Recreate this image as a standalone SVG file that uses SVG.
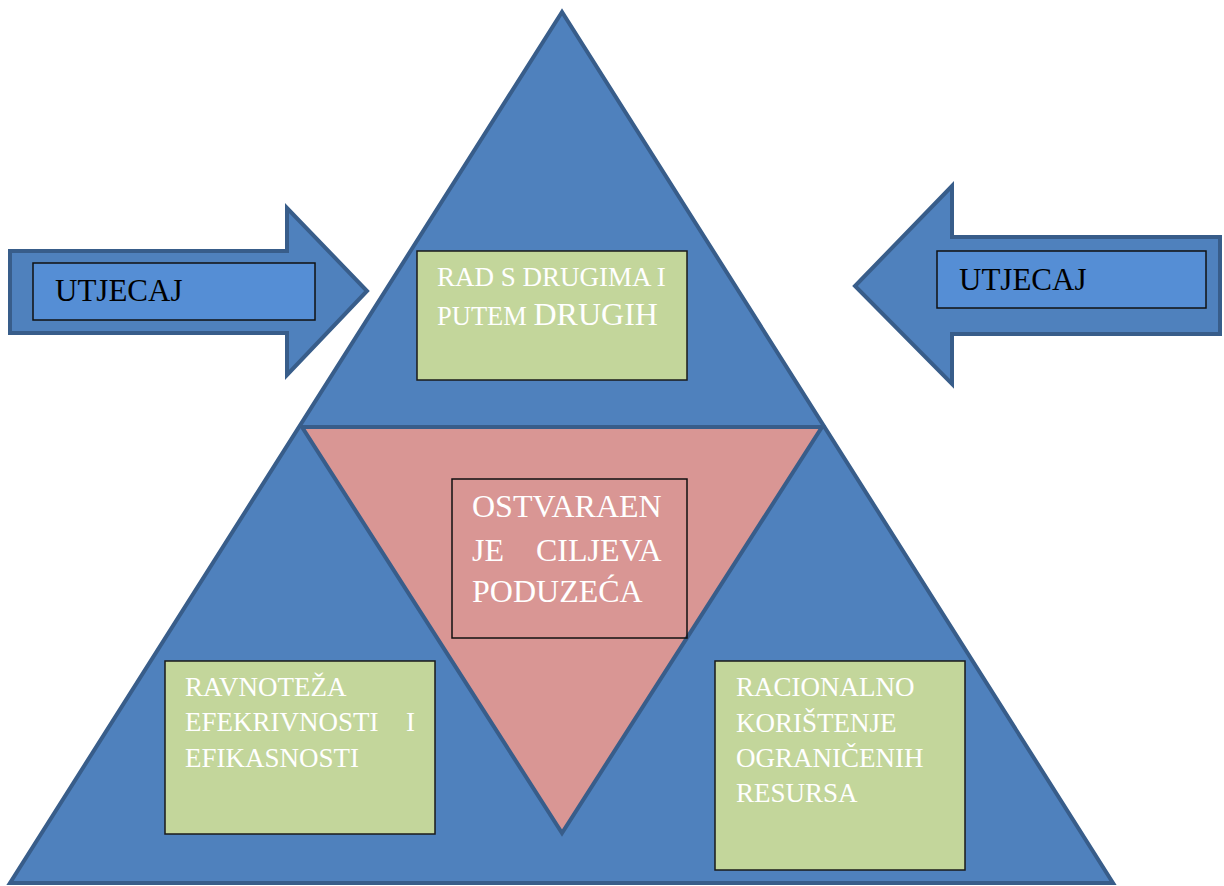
<svg xmlns="http://www.w3.org/2000/svg" width="1224" height="886" viewBox="0 0 1224 886">
<style>
.blue{fill:#4f81bd;stroke:#385d8a;stroke-width:4;stroke-linejoin:miter}
.red{fill:#d99694;stroke:#385d8a;stroke-width:4;stroke-linejoin:miter}
.green{fill:#c3d69b;stroke:#1a1a1a;stroke-width:1.5}
.tbox{fill:#558ed5;stroke:#111;stroke-width:1.5}
.cbox{fill:none;stroke:#111;stroke-width:1.5}
.w{font-family:"Liberation Serif","Times New Roman",serif;fill:#ffffff}
.k{font-family:"Liberation Serif","Times New Roman",serif;fill:#000000}
</style>
<rect width="1224" height="886" fill="#ffffff"/>
<g id="pyramid">
<polygon class="blue" points="562,12 10,883 1113,883"/>
<polygon class="red" points="302,427 822,427 562,833"/>
</g>
<g id="arrow-left">
<polygon class="blue" points="10,251 287,251 287,208 367,291 287,375 287,333 10,333"/>
<rect class="tbox" x="33" y="263" width="282" height="57"/>
<text class="k" x="55" y="301" font-size="31">UTJECAJ</text>
</g>
<g id="arrow-right">
<polygon class="blue" points="1220,237 952,237 952,186 855,286 952,384 952,334 1220,334"/>
<rect class="tbox" x="937" y="251" width="269" height="57"/>
<text class="k" x="959" y="290" font-size="31">UTJECAJ</text>
</g>
<g id="node-top">
<rect class="green" x="417" y="251" width="270" height="129"/>
<text class="w" x="437" y="286" font-size="27">RAD S DRUGIMA I</text>
<text class="w" x="437" y="325" font-size="26.5">PUTEM <tspan font-size="32">DRUGIH</tspan></text>
</g>
<g id="node-center">
<rect class="cbox" x="452" y="479" width="235" height="159"/>
<text class="w" x="472" y="517" font-size="32">OSTVARAEN</text>
<text class="w" y="561" font-size="32"><tspan x="472">JE</tspan><tspan x="536">CILJEVA</tspan></text>
<text class="w" x="472" y="602" font-size="32">PODUZEĆA</text>
</g>
<g id="node-left">
<rect class="green" x="165" y="661" width="270" height="173"/>
<text class="w" x="185" y="696" font-size="27">RAVNOTEŽA</text>
<text class="w" y="731" font-size="27"><tspan x="185">EFEKRIVNOSTI</tspan><tspan x="406">I</tspan></text>
<text class="w" x="185" y="767" font-size="27">EFIKASNOSTI</text>
</g>
<g id="node-right">
<rect class="green" x="715" y="661" width="250" height="209"/>
<text class="w" x="736" y="696" font-size="27">RACIONALNO</text>
<text class="w" x="736" y="732" font-size="27">KORIŠTENJE</text>
<text class="w" x="736" y="767" font-size="27">OGRANIČENIH</text>
<text class="w" x="736" y="802" font-size="27">RESURSA</text>
</g>
<g id="connectors"/>
</svg>
